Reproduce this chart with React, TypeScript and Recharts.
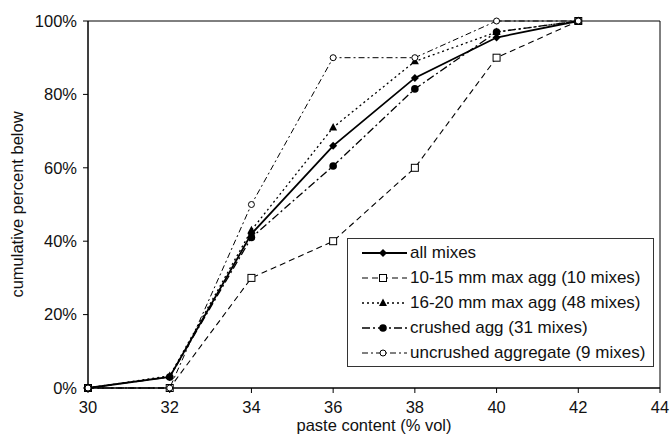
import React from 'react';
import {
  Line,
  LineChart,
  ReferenceArea,
  XAxis,
  YAxis,
} from 'recharts';

const pasteContent = [30, 32, 34, 36, 38, 40, 42];
const allMixes = [0, 3, 42, 66, 84.5, 95.5, 100];
const agg10to15 = [0, 0, 30, 40, 60, 90, 100];
const agg16to20 = [0, 3.3, 43, 71, 89, 97, 100];
const crushedAgg = [0, 3, 41, 60.5, 81.5, 97, 100];
const uncrushedAgg = [0, 0, 50, 90, 90, 100, 100];

const xTicks = [30, 32, 34, 36, 38, 40, 42, 44];
const yTicks = [0, 20, 40, 60, 80, 100];

const FONT = '"Liberation Sans", Arial, Helvetica, sans-serif';
const FS = 16.5;

type MarkerKind = 'diamond' | 'square' | 'triangle' | 'circle' | 'ring';

type SeriesDef = {
  key: string;
  name: string;
  values: number[];
  dash?: string;
  width: number;
  marker: MarkerKind;
};

const seriesDefs: SeriesDef[] = [
  { key: 'all', name: 'all mixes', values: allMixes, width: 1.8, marker: 'diamond' },
  { key: 'a1015', name: '10-15 mm max agg (10 mixes)', values: agg10to15, dash: '6 4', width: 1.1, marker: 'square' },
  { key: 'a1620', name: '16-20 mm max agg (48 mixes)', values: agg16to20, dash: '2 3', width: 1.3, marker: 'triangle' },
  { key: 'crushed', name: 'crushed agg (31 mixes)', values: crushedAgg, dash: '8 3 2 3', width: 1.3, marker: 'circle' },
  { key: 'uncrushed', name: 'uncrushed aggregate (9 mixes)', values: uncrushedAgg, dash: '6 3 2 3', width: 1, marker: 'ring' },
];

const tableData = pasteContent.map((x, i) => {
  const row: Record<string, number> = { x };
  seriesDefs.forEach((s) => {
    row[s.key] = s.values[i];
  });
  return row;
});

function Marker({ kind, cx, cy }: { kind: MarkerKind; cx: number; cy: number }) {
  switch (kind) {
    case 'diamond':
      return (
        <path
          d={`M${cx},${cy - 4}L${cx + 4},${cy}L${cx},${cy + 4}L${cx - 4},${cy}Z`}
          fill='#000'
        />
      );
    case 'square':
      return (
        <rect x={cx - 3.5} y={cy - 3.5} width={7} height={7} fill='#fff' stroke='#000' strokeWidth={1} />
      );
    case 'triangle':
      return (
        <path d={`M${cx},${cy - 4.5}L${cx + 4},${cy + 3}L${cx - 4},${cy + 3}Z`} fill='#000' />
      );
    case 'circle':
      return <circle cx={cx} cy={cy} r={3.8} fill='#000' />;
    default:
      return <circle cx={cx} cy={cy} r={3} fill='#fff' stroke='#000' strokeWidth={1} />;
  }
}

const makeDot = (kind: MarkerKind) => (props: any) => {
  const { cx, cy, index } = props;
  if (cx == null || cy == null) return <g key={index} />;
  return (
    <g key={index}>
      <Marker kind={kind} cx={cx} cy={cy} />
    </g>
  );
};

// legend is drawn as a plain box over the plot, like the original figure
function LegendBox() {
  return (
    <div
      style={{
        position: 'absolute',
        left: 347,
        top: 238,
        width: 307,
        height: 129,
        border: '1px solid #333',
        background: '#fff',
        boxSizing: 'border-box',
        paddingTop: 1,
        fontFamily: FONT,
        fontSize: 17,
        color: '#111',
      }}
    >
      {seriesDefs.map((s) => (
        <div key={s.key} style={{ display: 'flex', alignItems: 'center', height: 25 }}>
          <svg width={62} height={14} style={{ flex: 'none' }}>
            <line
              x1={14}
              y1={7}
              x2={59}
              y2={7}
              stroke='#000'
              strokeWidth={s.width}
              strokeDasharray={s.dash}
            />
            <Marker kind={s.marker} cx={35} cy={7} />
          </svg>
          <span style={{ whiteSpace: 'nowrap' }}>{s.name}</span>
        </div>
      ))}
    </div>
  );
}

export default function App() {
  return (
    <div style={{ position: 'absolute', left: 0, top: 0, width: 671, height: 439, background: '#fff' }}>
      <LineChart
        width={671}
        height={439}
        data={tableData}
        margin={{ top: 21, right: 11, bottom: 0, left: 0 }}
      >
        <XAxis
          dataKey='x'
          type='number'
          domain={[30, 44]}
          ticks={xTicks}
          interval={0}
          height={51}
          tickSize={5}
          tickMargin={8}
          stroke='#000'
          tick={{ fill: '#111', fontSize: FS, fontFamily: FONT }}
          label={{
            value: 'paste content (% vol)',
            position: 'insideBottom',
            offset: 8,
            style: { fill: '#111', fontSize: FS, fontFamily: FONT },
          }}
        />
        <YAxis
          type='number'
          domain={[0, 100]}
          ticks={yTicks}
          interval={0}
          width={88}
          tickSize={5}
          tickMargin={6}
          stroke='#000'
          tickFormatter={(v: number) => `${v}%`}
          tick={{ fill: '#111', fontSize: FS, fontFamily: FONT }}
          label={{
            value: 'cumulative percent below',
            angle: -90,
            position: 'insideLeft',
            offset: 17,
            style: { fill: '#111', fontSize: FS, fontFamily: FONT, textAnchor: 'middle' },
          }}
        />
        <ReferenceArea x1={30} x2={44} y1={0} y2={100} fill='none' stroke='#000' strokeWidth={1} />
        {seriesDefs.map((s) => (
          <Line
            key={s.key}
            dataKey={s.key}
            name={s.name}
            type='linear'
            stroke='#000'
            strokeWidth={s.width}
            strokeDasharray={s.dash}
            dot={makeDot(s.marker)}
            activeDot={false}
            isAnimationActive={false}
          />
        ))}
      </LineChart>
      <LegendBox />
    </div>
  );
}
